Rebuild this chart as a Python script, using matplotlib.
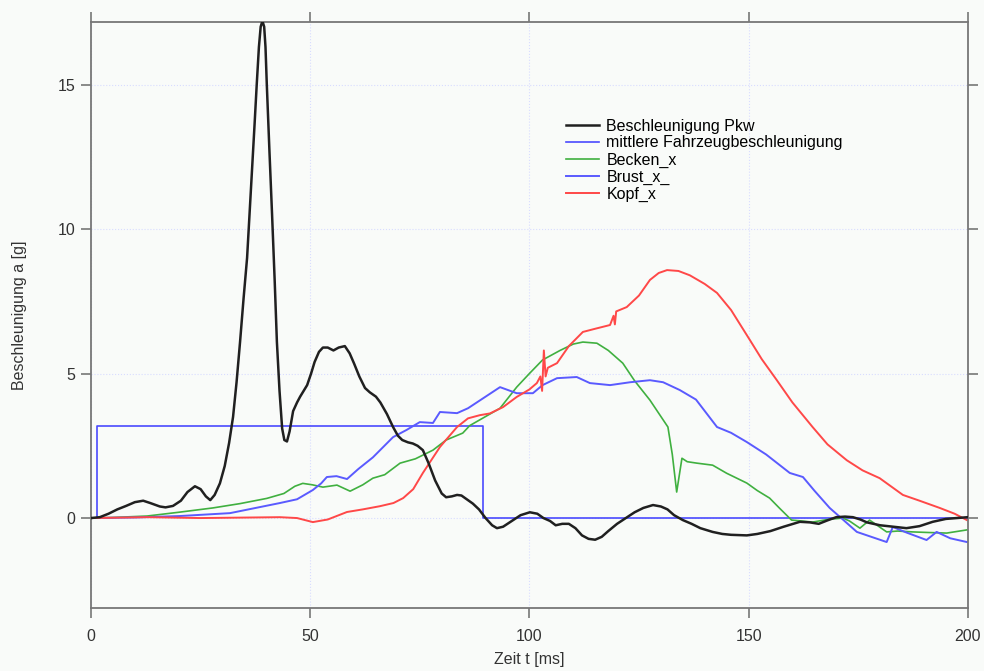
import matplotlib
matplotlib.use('Agg')
import matplotlib.pyplot as plt

plt.rcParams['font.family'] = ['Liberation Sans', 'DejaVu Sans']

# Beschleunigung Pkw (black)
pkw_t = [0, 2, 4, 6, 8, 10, 11.9, 13.5, 15.7, 17, 18.7, 20.5, 22, 23.7, 25, 26.2, 27.2, 28.2, 29.4,
         30.5, 31.5, 32.4, 33.2, 34, 34.8, 35.6, 36.2, 36.7, 37.3, 37.8, 38.3, 38.7, 39.1, 39.5,
         39.8, 40.1, 40.7, 41.3, 41.9, 42.4, 43, 43.6, 44.1, 44.7, 45.3, 46.1, 47, 47.7, 48.5,
         49.3, 50.2, 51, 52, 52.9, 54, 55.3, 56.5, 57.9, 59, 60, 61.2, 62.5, 63.6, 65, 66, 67.5,
         68.9, 70, 71, 72.3, 73.4, 74.5, 75.7, 77, 78.5, 80, 81, 82.3, 83.5, 84.5, 85.7, 87.1,
         88.5, 90, 91.5, 92.6, 94, 96, 98, 100.1, 101.8, 103.2, 104.7, 106, 107.5, 109, 110.5,
         112, 113.5, 115, 116.5, 118, 120, 122, 124, 126, 128.2, 130, 131.5, 133, 135, 137, 139,
         141.8, 144, 146, 149.6, 152, 155, 158, 161.7, 164, 166, 168, 170, 172, 173.8, 175.5,
         177, 180, 183, 186, 189, 192, 195, 197.5, 200]
pkw_a = [0, 0.03, 0.15, 0.3, 0.42, 0.55, 0.6, 0.52, 0.4, 0.37, 0.42, 0.6, 0.9, 1.1, 1.0, 0.75, 0.62, 0.8, 1.2,
         1.8, 2.6, 3.5, 4.7, 6.1, 7.6, 9.0, 10.6, 12.0, 13.6, 15.0, 16.3, 17.0, 17.2, 17.0,
         16.3, 15.0, 12.7, 10.5, 8.2, 6.1, 4.4, 3.1, 2.7, 2.65, 3.0, 3.7, 4.0, 4.2, 4.4,
         4.6, 5.0, 5.4, 5.75, 5.9, 5.9, 5.8, 5.9, 5.95, 5.7, 5.35, 4.9, 4.5, 4.35, 4.2, 4.0, 3.6,
         3.15, 2.85, 2.7, 2.62, 2.58, 2.5, 2.35, 1.9, 1.3, 0.85, 0.72, 0.75, 0.8, 0.78, 0.65, 0.5,
         0.3, 0.0, -0.25, -0.35, -0.3, -0.1, 0.1, 0.2, 0.15, 0.0, -0.1, -0.25, -0.2, -0.2, -0.35,
         -0.6, -0.72, -0.75, -0.65, -0.45, -0.2, 0.0, 0.2, 0.35, 0.45, 0.4, 0.3, 0.1, -0.07, -0.2, -0.35,
         -0.48, -0.55, -0.58, -0.6, -0.55, -0.45, -0.3, -0.13, -0.15, -0.2, -0.08, 0.03, 0.05, 0.03, -0.05,
         -0.15, -0.25, -0.3, -0.35, -0.28, -0.13, -0.03, 0.0, 0.03]

# mittlere Fahrzeugbeschleunigung (blue step)
mittel_t = [0, 1.4, 1.4, 89.4, 89.4, 200]
mittel_a = [0, 0, 3.18, 3.18, 0, 0]

# Becken_x (green)
becken_t = [0, 5, 12.8, 20, 27.8, 34, 40.1, 44, 46.5, 48.3, 50.5, 52.9, 56.1, 59.1, 62, 64.3, 67, 70.5,
            74, 78, 81, 84.8, 86.4, 89.4, 93.3, 97.1, 100, 103, 107, 110, 112.2, 115.4, 118, 121.3,
            124, 127.5, 131.6, 132.6, 133.6, 134.8, 136, 138.2, 141.8, 145, 149.6, 152, 154.8, 157,
            159.8, 162, 164.6, 168, 171.5, 173, 175.4, 177.6, 181.5, 184, 187.5, 191, 195.2, 199.8]
becken_a = [0, 0.02, 0.07, 0.2, 0.35, 0.5, 0.68, 0.85, 1.1, 1.2, 1.15, 1.07, 1.14, 0.93, 1.15, 1.38, 1.5, 1.9,
            2.05, 2.35, 2.7, 2.94, 3.2, 3.46, 3.8, 4.53, 5.0, 5.47, 5.8, 6.02, 6.09, 6.05, 5.8, 5.36,
            4.75, 4.08, 3.15, 2.2, 0.9, 2.07, 1.95, 1.9, 1.83, 1.55, 1.21, 0.95, 0.69, 0.35,
            -0.07, -0.1, -0.14, -0.05, 0.0, -0.1, -0.35, -0.07, -0.48, -0.45, -0.48, -0.5, -0.52, -0.41]

# Brust_x_ (blue)
brust_t = [0, 10, 20.3, 31.7, 43.1, 47, 50.6, 52.5, 53.8, 56, 58.4, 61, 64.3, 68.9, 72, 75, 78, 79.6,
           83.5, 86, 89, 93.3, 97.1, 100.8, 103, 106.3, 110.8, 113.8, 118.4, 123, 127.5, 130.5,
           134.3, 138, 142.8, 146, 149.6, 154, 159.4, 162.4, 165, 168.5, 171.5, 174.7, 178,
           181.5, 182.9, 186, 190.6, 192.9, 196, 199.8]
brust_a = [0, 0.02, 0.07, 0.17, 0.52, 0.65, 0.97, 1.2, 1.42, 1.45, 1.35, 1.7, 2.1, 2.8, 3.05, 3.32, 3.29, 3.67,
           3.63, 3.8, 4.1, 4.53, 4.32, 4.32, 4.6, 4.84, 4.88, 4.67, 4.6, 4.7, 4.77, 4.7,
           4.43, 4.1, 3.15, 2.95, 2.63, 2.2, 1.56, 1.42, 0.95, 0.35, -0.05, -0.48, -0.65,
           -0.83, -0.31, -0.5, -0.76, -0.48, -0.7, -0.83]

# Kopf_x (red)
kopf_t = [0, 12.8, 25, 43.1, 47, 50.6, 54, 58.4, 62, 65.9, 69, 71.2, 73.5, 75.7, 79.6, 83.5, 86, 88.7,
          91, 94, 97.1, 100, 101.7, 102.5, 102.9, 103.3, 103.7, 104.2, 106.3, 109, 112.2, 115,
          118.4, 119.2, 119.5, 119.8, 122.2, 125, 127.5, 129.5, 131.4, 134, 136.6, 140, 142.8, 146,
          150.3, 153, 156.4, 160, 164.6, 168, 172.4, 176, 179.9, 185.2, 189, 193.6, 197, 199.8]
kopf_a = [0, 0.03, 0.0, 0.03, 0.0, -0.14, -0.05, 0.21, 0.3, 0.41, 0.52, 0.69, 1.0, 1.56, 2.46, 3.15, 3.45, 3.56,
          3.62, 3.84, 4.19, 4.45, 4.67, 4.9, 4.4, 5.8, 4.9, 5.2, 5.36, 5.95, 6.44, 6.55,
          6.68, 7.0, 6.7, 7.15, 7.3, 7.7, 8.24, 8.48, 8.58, 8.55, 8.4, 8.1, 7.79, 7.2,
          6.16, 5.5, 4.78, 4.0, 3.15, 2.55, 2.0, 1.65, 1.38, 0.8, 0.6, 0.35, 0.15, -0.07]

fig = plt.figure(figsize=(9.84, 6.71), dpi=100, facecolor='#f9fbf9')
ax = fig.add_axes([0.0925, 0.094, 0.891, 0.873], facecolor='#f9fbf9')

ax.plot(pkw_t, pkw_a, color='#202020', lw=1.8, label='Beschleunigung Pkw', zorder=5)
ax.plot(mittel_t, mittel_a, color='#4a4aff', lw=1.2, label='mittlere Fahrzeugbeschleunigung')
ax.plot(becken_t, becken_a, color='#40b040', lw=1.2, label='Becken_x')
ax.plot(brust_t, brust_a, color='#5a5aff', lw=1.4, label='Brust_x_')
ax.plot(kopf_t, kopf_a, color='#ff4848', lw=1.4, label='Kopf_x')

ax.set_xlim(0, 200)
ax.set_ylim(-3.11, 17.16)
ax.set_xticks([0, 50, 100, 150, 200])
ax.set_yticks([0, 5, 10, 15])
ax.grid(True, color='#d8dcff', linestyle=':', linewidth=0.8)
ax.tick_params(direction='out', length=7, width=1.2, color='#777777', labelsize=11.5,
               labelcolor='#333333', top=True, right=True)
ax.tick_params(axis='x', pad=8)
ax.tick_params(axis='y', pad=4)
for s in ax.spines.values():
    s.set_color('#777777')
    s.set_linewidth(1.3)

ax.set_xlabel('Zeit t [ms]', fontsize=11.5, color='#333333', labelpad=6)
ax.set_ylabel('Beschleunigung a [g]', fontsize=11.5, color='#333333', labelpad=22)

ax.legend(loc='upper left', bbox_to_anchor=(0.525, 0.86), frameon=False, fontsize=11.5,
          handlelength=2.1, labelspacing=0.12, handletextpad=0.45)

fig.savefig('out.png', dpi=100, facecolor=fig.get_facecolor())
